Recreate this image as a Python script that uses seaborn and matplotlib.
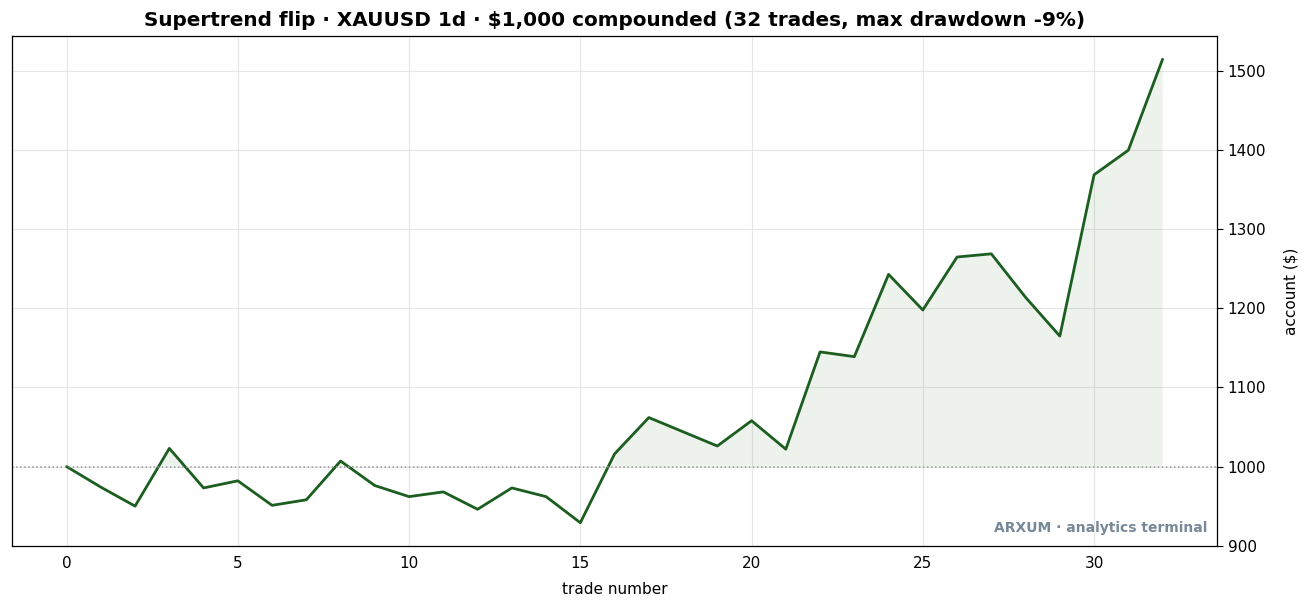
import pandas as pd
import matplotlib
matplotlib.use('Agg')
import matplotlib.pyplot as plt
import seaborn as sns

# account value after each trade
trades = list(range(33))
account = [1000, 974, 950, 1023, 973, 982, 951, 958, 1007, 976,
           962, 968, 946, 973, 962, 929, 1016, 1062, 1044, 1026,
           1058, 1022, 1145, 1139, 1243, 1198, 1265, 1269, 1214, 1165,
           1369, 1400, 1515]
start = 1000

df = pd.DataFrame({'trade': trades, 'account': account})

sns.set_style('white')
plt.rcParams['font.family'] = ['DejaVu Sans']
plt.rcParams['text.color'] = 'black'
plt.rcParams['axes.labelcolor'] = 'black'
plt.rcParams['xtick.color'] = 'black'
plt.rcParams['ytick.color'] = 'black'

fig, ax = plt.subplots(figsize=(13.09, 6.12), dpi=100)

# fill only the part above the start balance
ax.fill_between(df['trade'], df['account'], start,
                where=df['account'] >= start, interpolate=True,
                color='#1b5e20', alpha=0.08, linewidth=0)
sns.lineplot(x='trade', y='account', data=df, color='#1b5e20', linewidth=2, ax=ax)
ax.axhline(start, color='#999999', linestyle=':', linewidth=1.1)

ax.yaxis.tick_right()
ax.yaxis.set_label_position('right')
ax.set_xlabel('trade number', fontsize=11, labelpad=8)
ax.set_ylabel('account ($)', fontsize=11, labelpad=12)
ax.tick_params(labelsize=11, length=4)
ax.grid(True, color='#e6e6e6', linewidth=0.8)
for s in ax.spines.values():
    s.set_color('black')
    s.set_linewidth(0.9)

ax.set_title('Supertrend flip · XAUUSD 1d · $1,000 compounded (32 trades, max drawdown -9%)',
             fontsize=14.4, fontweight='bold', pad=7)
ax.text(0.992, 0.022, 'ARXUM · analytics terminal', transform=ax.transAxes,
        ha='right', va='bottom', fontsize=10, fontweight='bold', color='#778899')

plt.subplots_adjust(left=0.009, right=0.930, top=0.941, bottom=0.108)
plt.savefig('out.png')
